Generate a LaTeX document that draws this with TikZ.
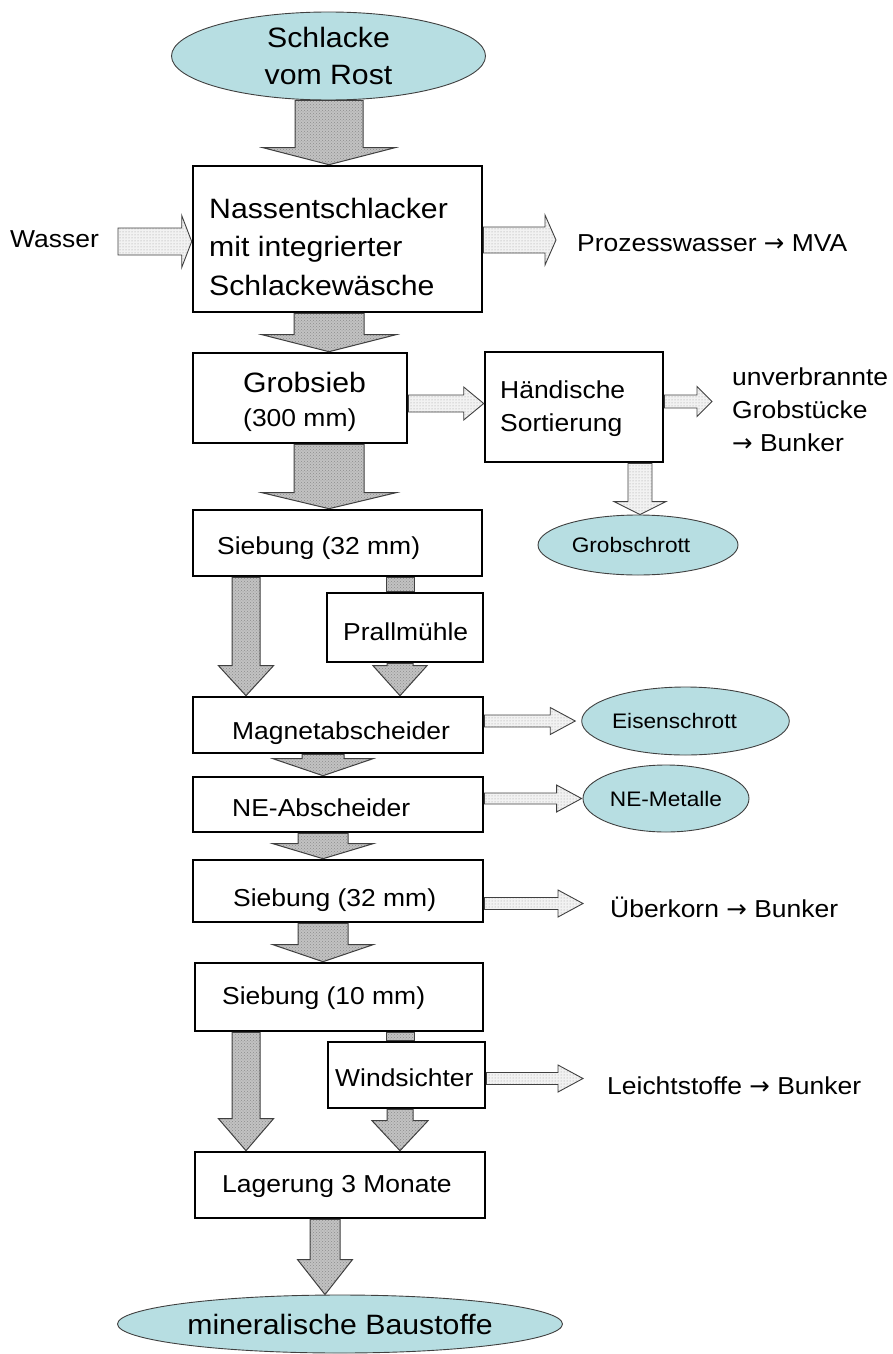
\documentclass[tikz,border=0pt]{standalone}
\usepackage{fontspec}
\setmainfont[FakeStretch=1.08]{Liberation Sans}
\newfontfamily\arrowfont{DejaVu Sans}
\newcommand\toarrow{{\arrowfont →}}
\usetikzlibrary{calc,patterns,shapes.geometric}
\definecolor{slagteal}{RGB}{183,222,226}

% vertical block arrow: style, tail point, tip point, shaft half width, head half width, head length
\newcommand\downblock[6]{%
  \draw[#1] let \p1=(#2), \p2=(#3) in
    (\x1-#4pt,\y1) -- (\x1+#4pt,\y1) -- (\x1+#4pt,\y2+#6pt) -- (\x1+#5pt,\y2+#6pt)
    -- (\x1,\y2) -- (\x1-#5pt,\y2+#6pt) -- (\x1-#4pt,\y2+#6pt) -- cycle;}
% horizontal block arrow pointing right
\newcommand\rightblock[6]{%
  \draw[#1] let \p1=(#2), \p2=(#3) in
    (\x1,\y1+#4pt) -- (\x2-#6pt,\y1+#4pt) -- (\x2-#6pt,\y1+#5pt) -- (\x2,\y1)
    -- (\x2-#6pt,\y1-#5pt) -- (\x2-#6pt,\y1-#4pt) -- (\x1,\y1-#4pt) -- cycle;}
% short straight feed without head
\newcommand\feedstub[4]{%
  \draw[#1] let \p1=(#2), \p2=(#3) in (\x1-#4pt,\y1) rectangle (\x1+#4pt,\y2);}

\begin{document}
\begin{tikzpicture}[x=1pt,y=1pt,
  box/.style={draw=black, line width=2.6pt, fill=white, inner sep=0pt},
  product/.style={ellipse, draw=black!75, line width=0.9pt, fill=slagteal, inner sep=0pt, align=center},
  txt/.style={inner sep=0pt, anchor=base west, align=left},
  big/.style={font=\fontsize{28}{38.5}\selectfont},
  mid/.style={font=\fontsize{24.5}{33}\selectfont},
  small/.style={font=\fontsize{21}{25}\selectfont},
  heavy/.style={draw=black!75, line width=1pt, preaction={fill=black!24}, pattern=crosshatch dots, pattern color=black!45},
  light/.style={draw=black!75, line width=0.9pt, preaction={fill=black!5}, pattern=dots, pattern color=black!40},
]
\useasboundingbox (0,0) rectangle (893,-1354);

% columns of the block arrows
\coordinate (colM) at (329,0);
\coordinate (colC) at (323,0);
\coordinate (colL) at (246,0);
\coordinate (colR) at (400,0);
\coordinate (colB) at (325,0);
\coordinate (colG) at (640,0);

% products
\node[product, big, font=\fontsize{28}{37}\selectfont, minimum width=314pt, minimum height=88pt] (rost) at (328.5,-56) {Schlacke\\vom Rost};
\node[product, small, minimum width=200pt, minimum height=60pt] (grobschrott) at (638,-545) {Grobschrott\hspace*{14pt}};
\node[product, small, minimum width=195pt, minimum height=68pt] (eisen) at (685.5,-721) {Eisenschrott\hspace*{22pt}};
\node[product, small, minimum width=166pt, minimum height=67pt] (nemet) at (666,-798.5) {NE-Metalle};
\node[product, big, minimum width=445pt, minimum height=58pt] (baust) at (340,-1324) {mineralische Baustoffe};

% process steps
\node[box, minimum width=289pt, minimum height=146pt] (nass) at (337.5,-239) {};
\node[box, minimum width=214pt, minimum height=90pt] (grob) at (300,-398) {};
\node[box, minimum width=178pt, minimum height=110pt] (hand) at (574,-407) {};
\node[box, minimum width=289pt, minimum height=66pt] (sieb1) at (337.5,-543) {};
\node[box, minimum width=156pt, minimum height=69pt] (prall) at (405,-627.5) {};
\node[box, minimum width=290pt, minimum height=56pt] (mag) at (338,-725) {};
\node[box, minimum width=290pt, minimum height=55pt] (ne) at (338,-804.5) {};
\node[box, minimum width=290pt, minimum height=62pt] (sieb2) at (338,-891) {};
\node[box, minimum width=288pt, minimum height=68pt] (sieb10) at (339,-997) {};
\node[box, minimum width=157pt, minimum height=66pt] (wind) at (406.5,-1075) {};
\node[box, minimum width=290pt, minimum height=66pt] (lager) at (340,-1185) {};

% labels of the process steps (multi-line labels sit on their last baseline)
\node[txt, big] (nassT) at (209,-295) {Nassentschlacker\\mit integrierter\\Schlackewäsche};
\node[txt, big] (grobT) at (243,-392) {Grobsieb};
\node[txt, mid] (grobM) at (243,-426) {(300 mm)};
\node[txt, mid] (handT) at (500,-431) {Händische\\Sortierung};
\node[txt, mid] (sieb1T) at (217,-554) {Siebung (32 mm)};
\node[txt, mid] (prallT) at (343,-640) {Prallmühle};
\node[txt, mid] (magT) at (232,-739) {Magnetabscheider};
\node[txt, mid] (neT) at (232,-816) {NE-Abscheider};
\node[txt, mid] (sieb2T) at (233,-906) {Siebung (32 mm)};
\node[txt, mid] (sieb10T) at (222,-1004) {Siebung (10 mm)};
\node[txt, mid] (windT) at (335,-1086) {Windsichter};
\node[txt, mid] (lagerT) at (222,-1192) {Lagerung 3 Monate};

% inputs and outputs written as text
\node[txt, mid] (wasser) at (10,-247) {Wasser};
\node[txt, mid] (prozess) at (577,-251) {Prozesswasser \toarrow{} MVA};
\node[txt, mid] (unverb) at (732,-451) {unverbrannte\\Grobstücke\\\toarrow{} Bunker};
\node[txt, mid] (ueber) at (610,-917) {Überkorn \toarrow{} Bunker};
\node[txt, mid] (leicht) at (607,-1094) {Leichtstoffe \toarrow{} Bunker};

% free ends of side arrows
\coordinate (wTail) at (118,-241.5);
\coordinate (pTip) at (556,-240);
\coordinate (ghRow) at (445,-403.5);
\coordinate (uTip) at (712,-401.5);
\coordinate (oTip) at (583,-903.5);
\coordinate (lTip) at (583,-1078.5);

% main material flow
\downblock{heavy}{rost.south -| colM}{nass.north -| colM}{34}{66}{17}
\downblock{heavy}{nass.south -| colM}{grob.north -| colM}{35}{67}{17}
\downblock{heavy}{grob.south -| colM}{sieb1.north -| colM}{35}{67}{16}
\downblock{heavy}{sieb1.south -| colL}{mag.north -| colL}{14}{27.5}{30}
\feedstub{heavy}{sieb1.south -| colR}{prall.north -| colR}{14}
\downblock{heavy}{prall.south -| colR}{mag.north -| colR}{13}{27}{30}
\downblock{heavy}{mag.south -| colC}{ne.north -| colC}{21}{50}{17}
\downblock{heavy}{ne.south -| colC}{sieb2.north -| colC}{25}{50}{15}
\downblock{heavy}{sieb2.south -| colC}{sieb10.north -| colC}{25}{50}{17}
\downblock{heavy}{sieb10.south -| colL}{lager.north -| colL}{14}{27.5}{32}
\feedstub{heavy}{sieb10.south -| colR}{wind.north -| colR}{14}
\downblock{heavy}{wind.south -| colR}{lager.north -| colR}{13}{28}{30}
\downblock{heavy}{lager.south -| colB}{baust.north -| colB}{15}{27.5}{35}

% side streams
\rightblock{light}{wTail}{nass.west |- wTail}{13.5}{26}{10}
\rightblock{light}{nass.east |- pTip}{pTip}{13}{25}{11}
\rightblock{light}{grob.east |- ghRow}{hand.west |- ghRow}{8.5}{16.5}{20}
\rightblock{light}{hand.east |- uTip}{uTip}{6.5}{15}{15}
\downblock{light}{hand.south -| colG}{grobschrott.north -| colG}{12}{26}{13}
\rightblock{light}{mag.east |- eisen.west}{[xshift=-6pt]eisen.west}{6}{13.5}{25}
\rightblock{light}{ne.east |- nemet.west}{[xshift=-1pt]nemet.west}{5.5}{13.5}{25}
\rightblock{light}{sieb2.east |- oTip}{oTip}{6}{13.5}{25}
\rightblock{light}{wind.east |- lTip}{lTip}{6}{13.5}{25}
\end{tikzpicture}
\end{document}
